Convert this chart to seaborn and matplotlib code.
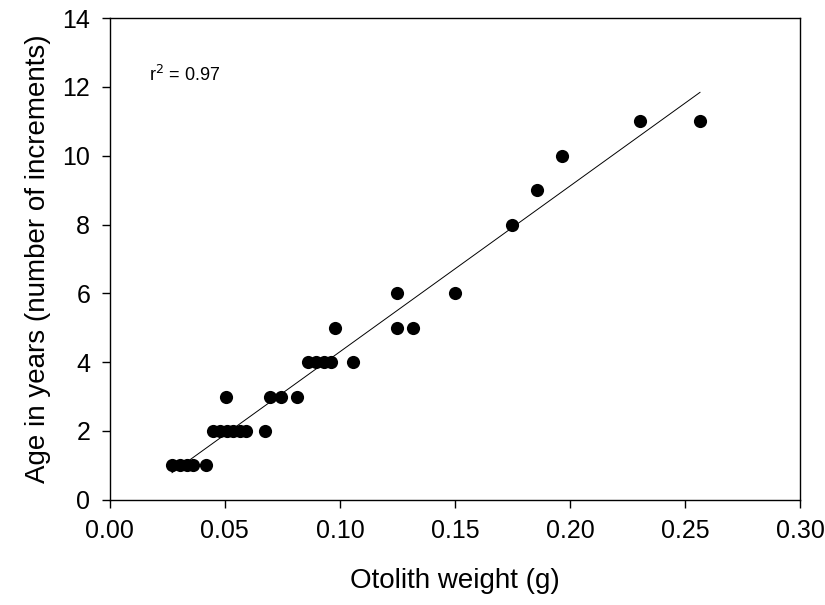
import matplotlib
matplotlib.use("Agg")
import matplotlib.pyplot as plt
import seaborn as sns
import pandas as pd

# Otolith weight (g) and age (number of increments)
otolith_weight = [0.027, 0.0304, 0.0335, 0.036, 0.042,
                  0.0448, 0.048, 0.051, 0.0535, 0.0565, 0.059, 0.0674,
                  0.0504, 0.0696, 0.0743, 0.0813,
                  0.086, 0.0896, 0.093, 0.096, 0.1057,
                  0.098, 0.1248, 0.1317,
                  0.1248, 0.150,
                  0.1748, 0.1857, 0.1965,
                  0.2304, 0.2565]
age_years = [1, 1, 1, 1, 1,
             2, 2, 2, 2, 2, 2, 2,
             3, 3, 3, 3,
             4, 4, 4, 4, 4,
             5, 5, 5,
             6, 6,
             8, 9, 10,
             11, 11]
r2_label = "r$^2$ = 0.97"

df = pd.DataFrame({"w": otolith_weight, "age": age_years})

sns.set_theme(style="white")
plt.rcParams["font.family"] = ["Liberation Sans", "DejaVu Sans"]

fig = plt.figure(figsize=(8.25, 6.05), dpi=100)
ax = fig.add_axes([0.133, 0.174, 0.837, 0.796])

sns.regplot(data=df, x="w", y="age", ax=ax, ci=None,
            scatter_kws=dict(s=90, color="black", edgecolor="black", linewidths=0,
                             alpha=1, zorder=3),
            line_kws=dict(color="black", lw=0.7))

ax.set_xlim(0, 0.30)
ax.set_ylim(0, 14)
ax.set_xticks([0.0, 0.05, 0.10, 0.15, 0.20, 0.25, 0.30])
ax.set_xticklabels(["0.00", "0.05", "0.10", "0.15", "0.20", "0.25", "0.30"])
ax.set_yticks(range(0, 15, 2))
ax.tick_params(axis="both", which="both", direction="out", length=6, width=1,
               colors="black", labelsize=18, bottom=True, left=True, top=False, right=False, pad=8)
for s in ax.spines.values():
    s.set_color("black")
    s.set_linewidth(1.0)
ax.set_xlabel("Otolith weight (g)", fontsize=20, color="black", labelpad=18)
ax.set_ylabel("Age in years (number of increments)", fontsize=20, color="black", labelpad=8)

ax.text(0.017, 12.35, r2_label, fontsize=13, color="black", va="center", ha="left")

fig.savefig("out.png", dpi=100, facecolor="white")
